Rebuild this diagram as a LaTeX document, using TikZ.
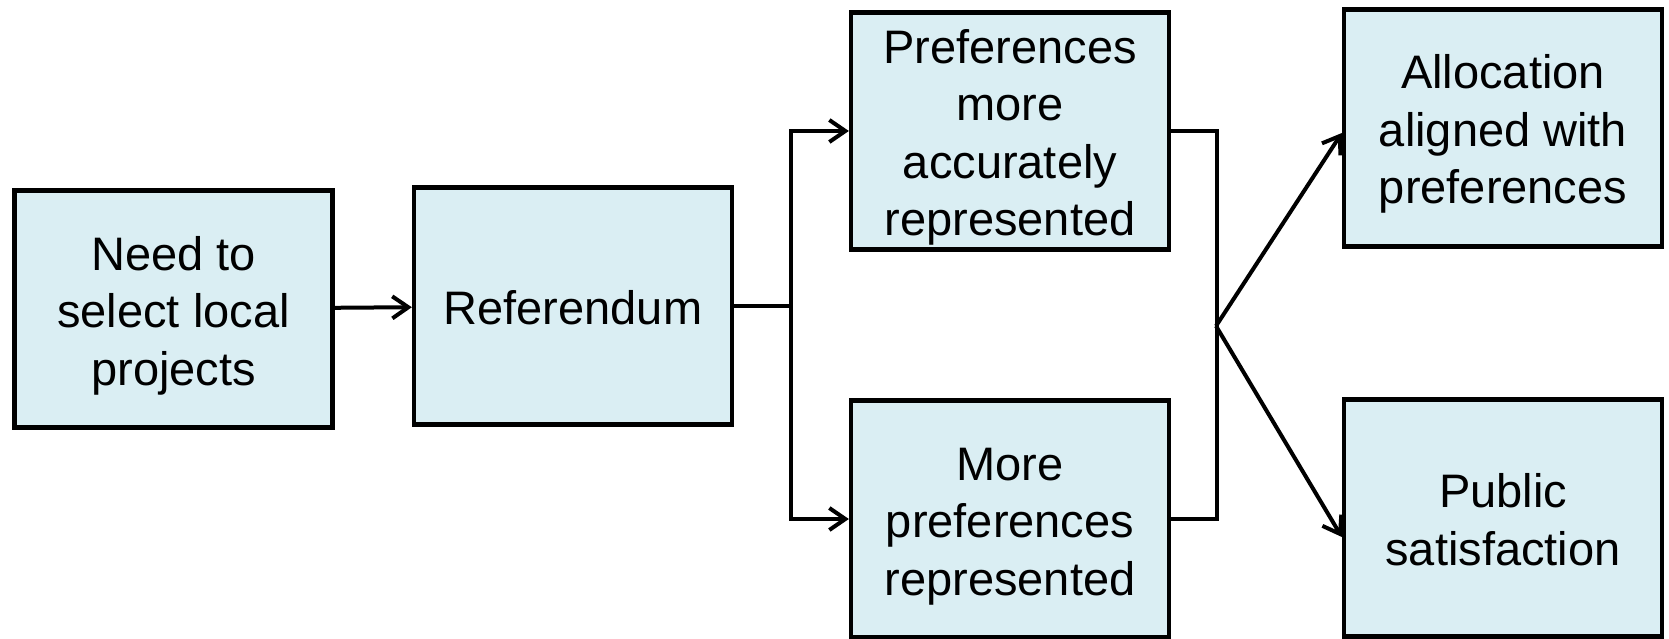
\documentclass[tikz,border=0pt]{standalone}
\usepackage{fontspec}
\setmainfont{Liberation Sans}
\usetikzlibrary{arrows.meta}
\definecolor{boxfill}{HTML}{DAEEF3}
\newcommand\lnstrut{\vrule height 47pt depth 10pt width 0pt}
\begin{document}
\begin{tikzpicture}[x=1pt,y=-1pt,
  box/.style={draw=black, line width=4.3pt, fill=boxfill, minimum width=318pt, minimum height=237pt, inner sep=0pt, align=center, font=\fontsize{47}{57.5}\selectfont},
  conn/.style={line width=4pt},
  arr/.style={conn, -{Straight Barb[length=16pt,width=22pt]}}]
\useasboundingbox (0,0) rectangle (1669,639);
\node[box] (A) at (173.5,309) {\lnstrut Need to\\select local\\projects\lnstrut};
\node[box] (B) at (573,306) {\lnstrut Referendum};
\node[box] (C) at (1010,131) {\lnstrut Preferences\\more\\accurately\\represented\lnstrut};
\node[box] (D) at (1010,519) {\lnstrut More\\preferences\\represented\lnstrut};
\node[box] (E) at (1503,128) {\lnstrut Allocation\\aligned with\\preferences\lnstrut};
\node[box] (F) at (1503,518) {\lnstrut Public\\satisfaction\lnstrut};
\draw[arr] (A) -- (B);
\coordinate (f) at (791,306);
\draw[conn] (B.east) -- (f);
\draw[arr] (f) |- (C.west);
\draw[arr] (f) |- (D.west);
\coordinate (j) at (1216,326);
\draw[conn] (C.east) -| (1217,326) |- (D.east);
\draw[arr] (j) -- ([yshift=-5pt]E.west);
\draw[arr] (j) -- ([yshift=-19pt]F.west);
\end{tikzpicture}
\end{document}
